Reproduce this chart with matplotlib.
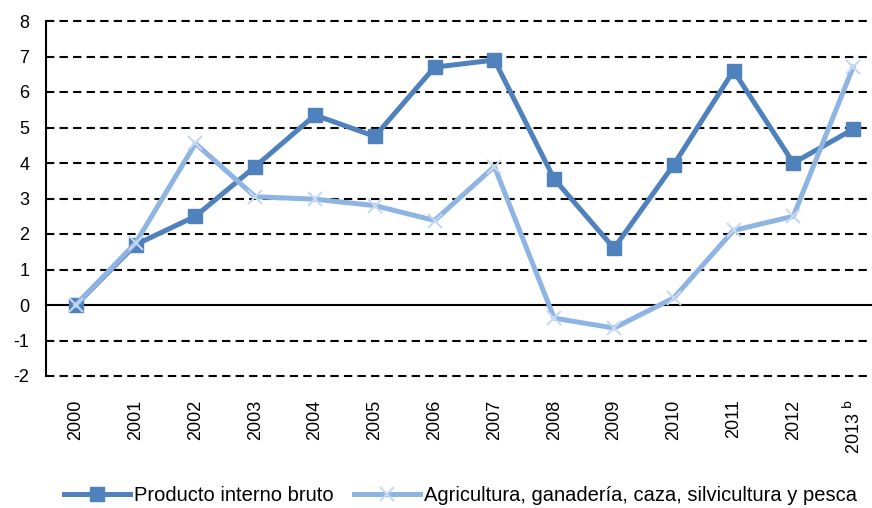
import matplotlib
matplotlib.use('Agg')
import matplotlib.pyplot as plt

plt.rcParams['font.family'] = ['Liberation Sans', 'DejaVu Sans']
plt.rcParams['axes.unicode_minus'] = False

years = ['2000', '2001', '2002', '2003', '2004', '2005', '2006',
         '2007', '2008', '2009', '2010', '2011', '2012', '2013 $^{\\mathrm{b}}$']

# Tasas de variación anual
pib = [0.0, 1.7, 2.5, 3.9, 5.35, 4.75, 6.7, 6.9, 3.55, 1.6, 3.95, 6.6, 4.0, 4.95]
agro = [0.0, 1.75, 4.55, 3.05, 2.98, 2.8, 2.38, 3.9, -0.37, -0.65, 0.2, 2.1, 2.5, 6.7]

fig = plt.figure(figsize=(8.72, 5.08), dpi=100)
ax = fig.add_axes([46 / 872, 1 - 376 / 508, 837 / 872, 355 / 508])

x = list(range(len(years)))

ax.plot(x, pib, color='#4F81BD', lw=3.6, marker='s', ms=10,
        label='Producto interno bruto', zorder=3)
ax.plot(x, agro, color='#8DB4E2', lw=3.6, marker='x', ms=10, mew=1.5,
        mec='#C5D9F1', label='Agricultura, ganadería, caza, silvicultura y pesca',
        zorder=4)

ax.set_ylim(-2, 8)
ax.set_xlim(-0.5, len(years) - 0.5)
ax.set_yticks(range(-2, 9))
for v in range(-2, 9):
    if v == 0:
        ax.axhline(v, color='black', lw=1.5, zorder=1, clip_on=False)
    else:
        ax.axhline(v, color='black', lw=1.5, ls=(0, (4, 2.5)), zorder=1,
                   clip_on=False)

for s in ['top', 'right', 'bottom']:
    ax.spines[s].set_visible(False)
ax.spines['left'].set_linewidth(1.5)

ax.set_xticks(x)
ax.set_xticklabels(years, rotation=90, fontsize=13)
ax.tick_params(axis='x', length=0, pad=17)
ax.tick_params(axis='y', labelsize=13, length=0, pad=12)

fig.legend(loc='lower center', bbox_to_anchor=(0.528, -0.03), ncol=2,
           frameon=False, fontsize=14.5, handlelength=3.3, columnspacing=1.0,
           handletextpad=0.2)

fig.savefig('out.png', dpi=100)
